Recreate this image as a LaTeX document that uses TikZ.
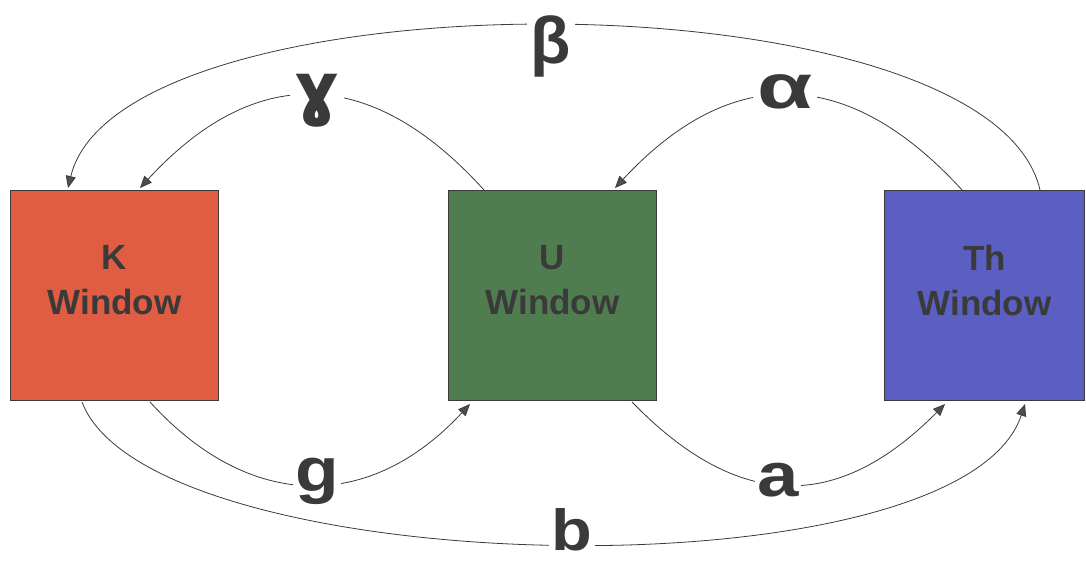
\documentclass[tikz,border=0pt]{standalone}
\usepackage{fontspec}
\setmainfont{Liberation Sans}
\newfontfamily\dejabold{DejaVu Sans}
\usetikzlibrary{arrows.meta}
\definecolor{kred}{HTML}{E05C43}
\definecolor{ugreen}{HTML}{4F7D50}
\definecolor{thblue}{HTML}{5B5FC2}
\definecolor{txt}{HTML}{3A3A3A}
\tikzset{
  win/.style={draw=txt, line width=1pt, minimum width=208pt, minimum height=210pt, inner sep=0pt, anchor=north west},
  wintext/.style={text=txt, font=\fontsize{35}{45}\selectfont\bfseries, align=center, inner sep=0pt},
  conn/.style={draw=txt, line width=0.8pt, -{Triangle[length=12pt,width=10pt,fill=txt!90]}},
  lab/.style={fill=white, text=txt, inner sep=4pt, font=\bfseries}
}
\begin{document}
\begin{tikzpicture}[x=1pt,y=-1pt]
\useasboundingbox (0,0) rectangle (1086,564);
\node[win, fill=kred] (K) at (10,190) {};
\node[win, fill=ugreen] (U) at (448,190) {};
\node[win, fill=thblue, minimum width=200pt] (T) at (884,190) {};
\node[wintext] (Kt) at ([yshift=15pt]K.center) {K\\Window};
\node[wintext] (Ut) at ([yshift=15pt]U.center) {U\\Window};
\node[wintext] (Tt) at ([yshift=15pt]T.center) {Th\\Window};
% coordinates on the boxes
\coordinate (bS) at (1040,190);
\coordinate (bE) at (68,188);
\coordinate (cS) at (484,190);
\coordinate (cE) at (140,188);
\coordinate (aS) at (962,190);
\coordinate (aE) at (615,188);
\coordinate (gS) at (150,402);
\coordinate (gE) at (470,404);
\coordinate (a2S) at (632,402);
\coordinate (a2E) at (945,404);
\coordinate (b2S) at (82,402);
\coordinate (b2E) at (1025,404);
% curves
\draw[conn] (bS) .. controls (990,-29) and (120,-29) .. (bE);
\draw[conn] (cS) .. controls (370,64) and (254,64) .. (cE);
\draw[conn] (aS) .. controls (847,64) and (730,64) .. (aE);
\draw[conn] (gS) .. controls (250,512) and (370,512) .. (gE);
\draw[conn] (a2S) .. controls (739,512) and (838,512) .. (a2E);
\draw[conn] (b2S) .. controls (150,582) and (960,600) .. (b2E);
% labels
\node[lab] (lbeta) at (551,46) {\fontsize{66}{66}\selectfont β};
\node[lab] (lgamma) at (317,101) {\fontsize{70}{70}\selectfont\dejabold\bfseries ɣ};
\node[lab] (lalpha) at (785,92) {\fontsize{60}{60}\selectfont\scalebox{1.5}[1.05]{α}};
\node[lab, inner sep=2pt] (lg) at (317,481) {\fontsize{62}{62}\selectfont\scalebox{1.15}[1]{g}};
\node[lab, inner sep=2pt] (la) at (778,480) {\fontsize{62}{62}\selectfont\scalebox{1.2}[1]{a}};
\node[lab, inner xsep=3pt, inner ysep=0pt] (lb) at (572,530) {\fontsize{58}{58}\selectfont\scalebox{1.15}[1]{b}};
\end{tikzpicture}
\end{document}
